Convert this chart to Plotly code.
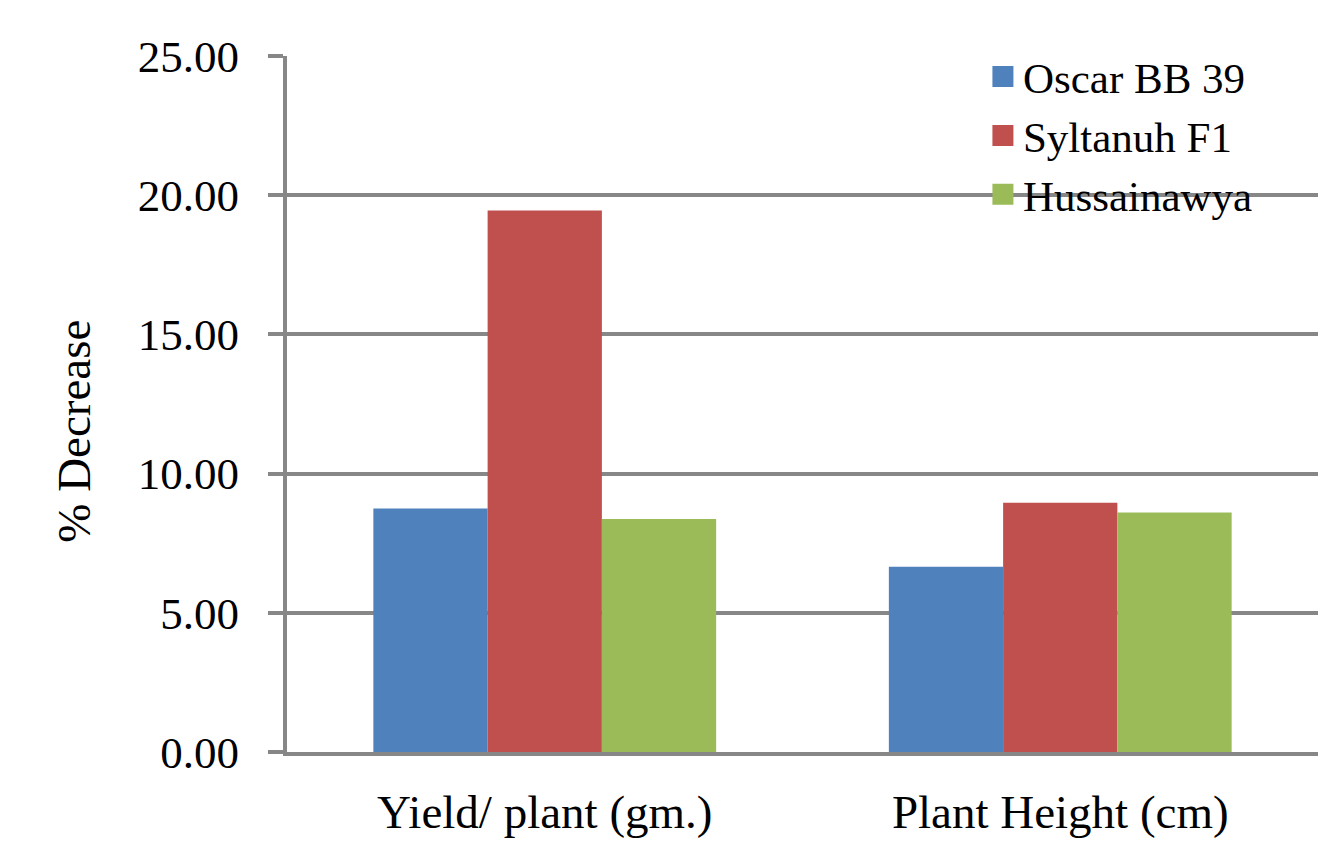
import plotly.graph_objects as go

categories = ["Yield/ plant (gm.)", "Plant Height (cm)"]
series_names = ["Oscar BB 39", "Syltanuh F1", "Hussainawya"]
oscar_bb_39 = [8.75, 6.65]
syltanuh_f1 = [19.45, 8.95]
hussainawya = [8.37, 8.60]
y_ticks = [0, 5, 10, 15, 20, 25]

colors = ["#4F81BD", "#C0504D", "#9BBB59"]
grid_gray = "#878787"
font_family = "Liberation Serif"

fig = go.Figure()
for name, vals, col in zip(series_names, [oscar_bb_39, syltanuh_f1, hussainawya], colors):
    fig.add_trace(go.Bar(name=name, x=categories, y=vals, marker_color=col,
                         marker_line_width=0, showlegend=False))
    # legend proxy with a bigger square swatch
    fig.add_trace(go.Scatter(name=name, x=[None], y=[None], mode="markers",
                             marker=dict(symbol="square", size=25, color=col,
                                         line=dict(color=col, width=5)),
                             showlegend=True))

fig.update_layout(
    width=1337, height=856,
    margin=dict(l=279, r=27, t=48, b=112),
    plot_bgcolor="white", paper_bgcolor="white",
    barmode="group", bargap=0.335, bargroupgap=0,
    font=dict(family=font_family, color="black"),
    legend=dict(x=0.675, y=1.02, xanchor="left", yanchor="top",
                bgcolor="rgba(0,0,0,0)", font=dict(size=43),
                itemsizing="trace", tracegroupgap=0),
)
# y-axis title placed as annotation (sits a bit below the plot centre, as in the original)
fig.add_annotation(text="% Decrease", xref="paper", yref="paper",
                   x=-0.206, y=0.461, xanchor="center", yanchor="middle",
                   textangle=-90, showarrow=False, font=dict(size=47))

fig.update_xaxes(
    showgrid=False, showline=True, linecolor=grid_gray, linewidth=4,
    ticks="", tickfont=dict(size=47), ticklabelstandoff=16,
)
fig.update_yaxes(
    range=[0, 25], tickvals=y_ticks, tickformat=".2f",
    showgrid=True, gridcolor=grid_gray, gridwidth=4,
    showline=True, linecolor=grid_gray, linewidth=4,
    ticks="outside", ticklen=15, tickwidth=4, tickcolor=grid_gray,
    tickfont=dict(size=45), ticklabelstandoff=20, zeroline=False,
)

fig.write_html("out.html")
